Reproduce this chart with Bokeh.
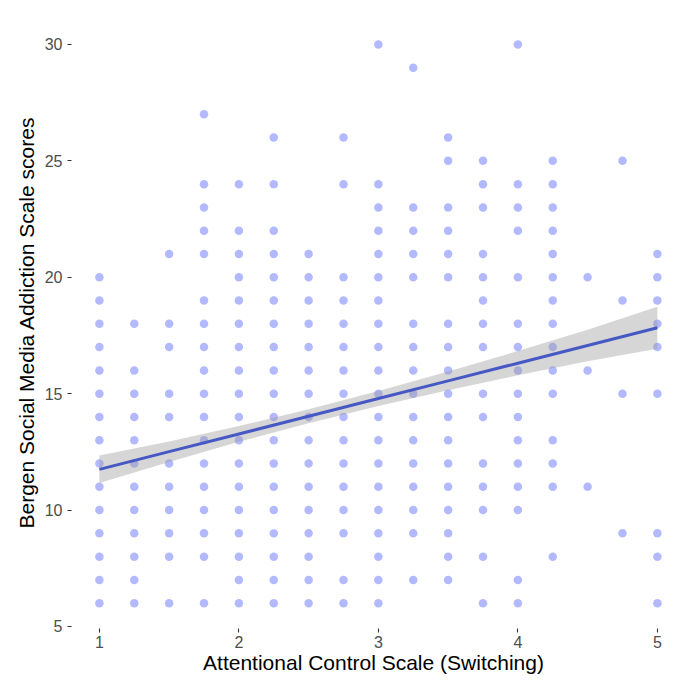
import numpy as np
from bokeh.plotting import figure
from bokeh.models import ColumnDataSource, FixedTicker, Range1d
from bokeh.embed import file_html
from bokeh.resources import INLINE

# ---- data ----
x_levels = [1.0, 1.25, 1.5, 1.75, 2.0, 2.25, 2.5, 2.75, 3.0, 3.25, 3.5, 3.75, 4.0, 4.25, 4.5, 4.75, 5.0]

y_x1_00 = [6, 7, 8, 9, 10, 11, 12, 13, 14, 15, 16, 17, 18, 19, 20]
y_x1_25 = [6, 7, 8, 9, 10, 11, 12, 13, 14, 15, 16, 18]
y_x1_50 = [6, 8, 9, 10, 11, 12, 14, 15, 17, 18, 21]
y_x1_75 = [6, 8, 9, 10, 11, 12, 13, 14, 15, 16, 17, 18, 19, 21, 22, 23, 24, 27]
y_x2_00 = [6, 7, 8, 9, 10, 11, 12, 13, 14, 15, 16, 17, 18, 19, 20, 21, 22, 24]
y_x2_25 = [6, 7, 8, 9, 10, 11, 12, 13, 14, 15, 16, 17, 18, 19, 20, 21, 22, 24, 26]
y_x2_50 = [6, 7, 8, 9, 10, 11, 12, 13, 14, 15, 16, 17, 18, 19, 20, 21]
y_x2_75 = [6, 7, 9, 10, 11, 12, 13, 14, 15, 16, 17, 18, 19, 20, 24, 26]
y_x3_00 = [6, 7, 8, 9, 10, 11, 12, 13, 14, 15, 16, 17, 18, 19, 20, 21, 22, 23, 24, 30]
y_x3_25 = [7, 9, 10, 11, 12, 13, 14, 15, 16, 17, 18, 20, 21, 22, 23, 29]
y_x3_50 = [7, 8, 9, 10, 11, 12, 13, 14, 15, 16, 17, 18, 20, 21, 22, 23, 25, 26]
y_x3_75 = [6, 8, 10, 11, 12, 14, 15, 17, 18, 19, 20, 21, 23, 24, 25]
y_x4_00 = [6, 7, 10, 11, 12, 13, 14, 15, 16, 17, 18, 20, 22, 23, 24, 30]
y_x4_25 = [8, 11, 12, 13, 15, 16, 17, 18, 19, 20, 21, 22, 23, 24, 25]
y_x4_50 = [11, 16, 20]
y_x4_75 = [9, 15, 19, 25]
y_x5_00 = [6, 8, 9, 15, 17, 18, 19, 20, 21]

y_columns = [y_x1_00, y_x1_25, y_x1_50, y_x1_75, y_x2_00, y_x2_25, y_x2_50, y_x2_75,
             y_x3_00, y_x3_25, y_x3_50, y_x3_75, y_x4_00, y_x4_25, y_x4_50, y_x4_75, y_x5_00]

# fitted regression line and its confidence band
fit_x = [1.0, 1.5, 2.0, 2.5, 3.0, 3.5, 4.0, 4.5, 5.0]
fit_y = [11.75, 12.51, 13.27, 14.03, 14.79, 15.55, 16.31, 17.07, 17.83]
fit_lo = [11.16, 12.07, 12.93, 13.73, 14.47, 15.15, 15.79, 16.39, 16.93]
fit_hi = [12.34, 12.95, 13.61, 14.33, 15.11, 15.95, 16.83, 17.75, 18.73]

x_ticks = [1, 2, 3, 4, 5]
y_ticks = [5, 10, 15, 20, 25, 30]

x_title = "Attentional Control Scale (Switching)"
y_title = "Bergen Social Media Addiction Scale scores"

# ---- build ----
px, py = [], []
for xv, ys in zip(x_levels, y_columns):
    for yv in ys:
        px.append(xv)
        py.append(yv)
pts = ColumnDataSource(dict(x=px, y=py))
fit = ColumnDataSource(dict(x=fit_x, y=fit_y, lo=fit_lo, hi=fit_hi))

p = figure(width=675, height=678, output_backend="svg", toolbar_location=None,
           x_range=Range1d(0.8, 5.13), y_range=Range1d(4.914, 31.2),
           min_border_left=71, min_border_top=16, min_border_right=0, min_border_bottom=50,
           background_fill_color="white", border_fill_color="white")
p.outline_line_color = None
p.xgrid.visible = False
p.ygrid.visible = False

p.scatter("x", "y", source=pts, size=8.5, fill_color="#b3b9ff", line_color=None)
p.varea(x="x", y1="lo", y2="hi", source=fit, fill_color="#999999", fill_alpha=0.4)
p.line("x", "y", source=fit, line_color="#4658c4", line_width=3)

for ax in (p.xaxis[0], p.yaxis[0]):
    ax.axis_line_color = None
    ax.major_tick_line_color = "#333333"
    ax.major_tick_line_width = 1.1
    ax.major_tick_in = 0
    ax.major_tick_out = 4
    ax.minor_tick_line_color = None
    ax.major_label_text_font = "Liberation Sans"
    ax.major_label_text_font_size = "16px"
    ax.major_label_text_color = "#4d4d4d"
    ax.axis_label_text_font = "Liberation Sans"
    ax.axis_label_text_font_size = "21px"
    ax.axis_label_text_font_style = "normal"
    ax.axis_label_text_color = "black"

p.xaxis[0].ticker = FixedTicker(ticks=x_ticks)
p.yaxis[0].ticker = FixedTicker(ticks=y_ticks)
p.xaxis[0].axis_label = x_title
p.yaxis[0].axis_label = y_title
p.xaxis[0].major_label_standoff = 3
p.yaxis[0].major_label_standoff = 5
p.xaxis[0].axis_label_standoff = 0
p.yaxis[0].axis_label_standoff = 4

open("out.html", "w").write(file_html(p, INLINE))
